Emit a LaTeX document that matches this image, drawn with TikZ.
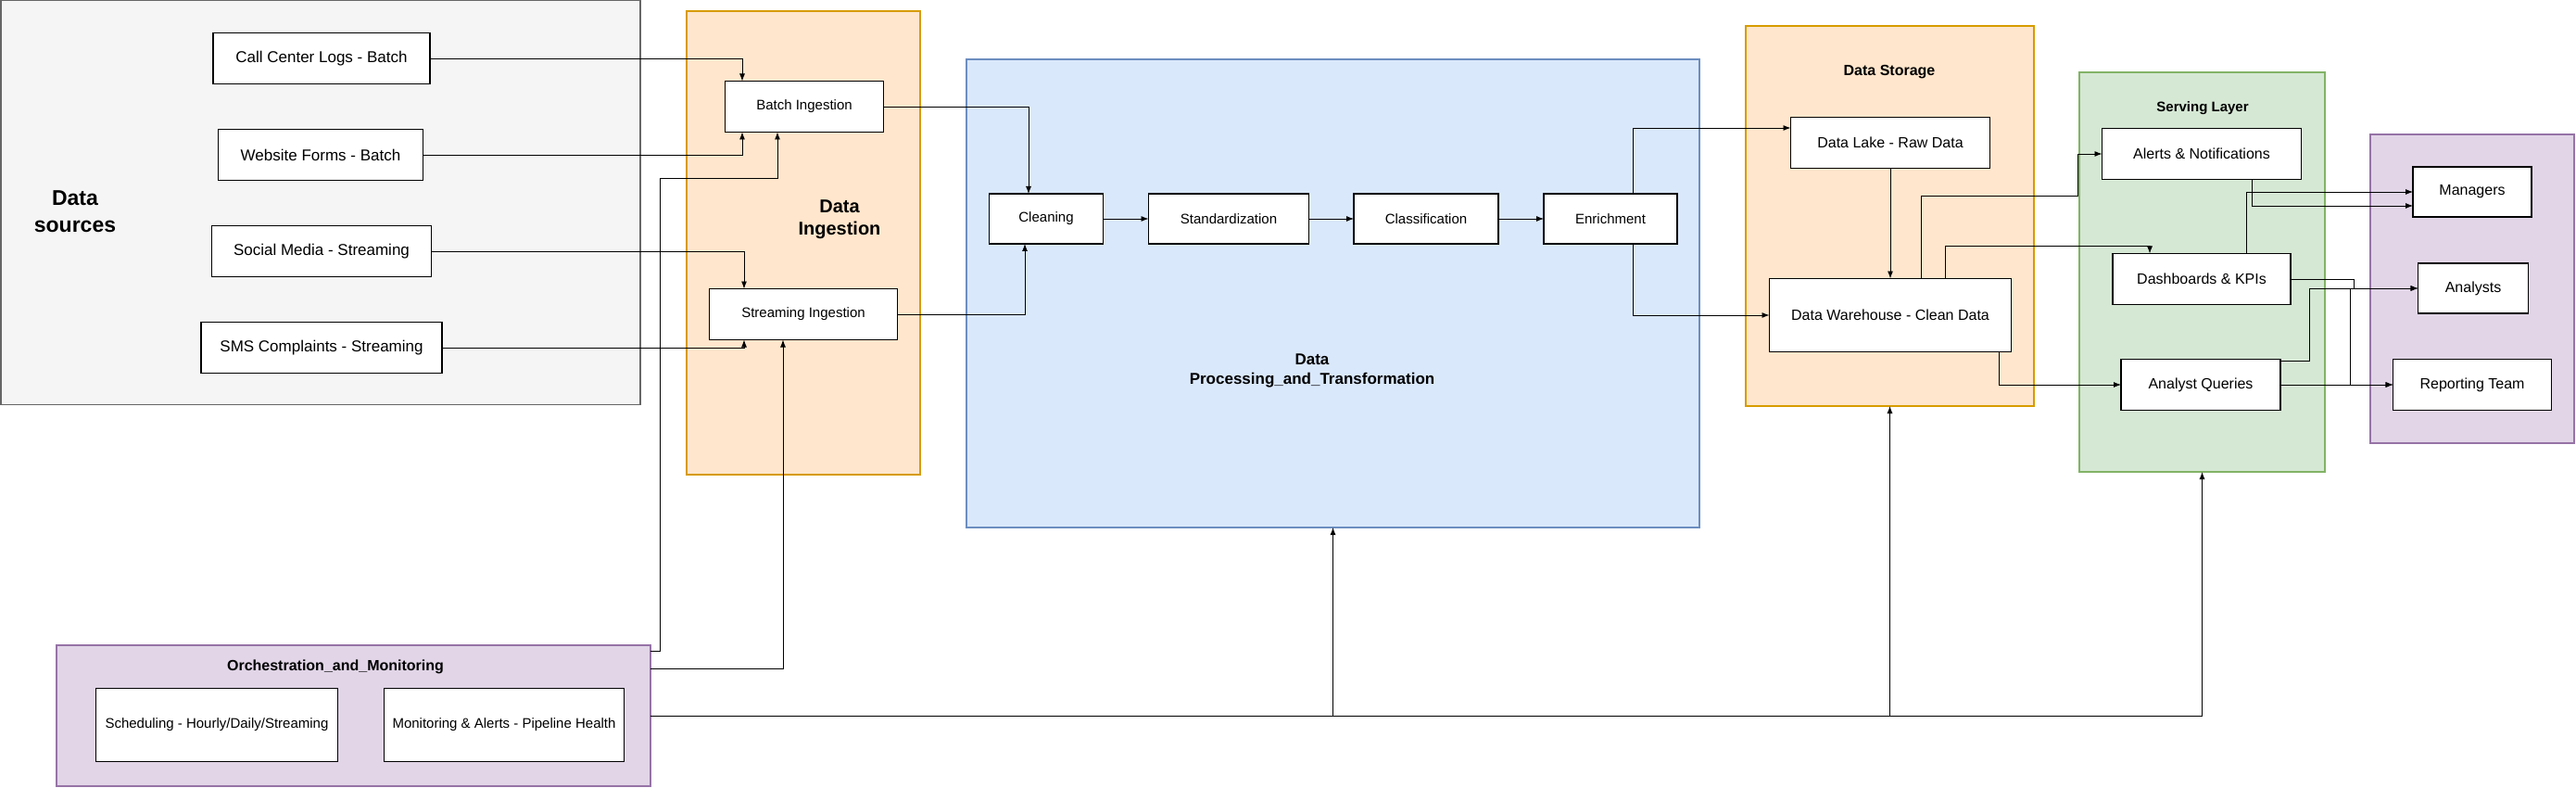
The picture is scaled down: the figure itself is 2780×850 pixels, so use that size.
\documentclass[tikz,border=0pt]{standalone}
\usepackage{fontspec}
\setmainfont{Liberation Sans}
\usetikzlibrary{positioning,arrows.meta}

\definecolor{srcfill}{HTML}{F5F5F5}\definecolor{srcline}{HTML}{666666}
\definecolor{orfill}{HTML}{FFE6CC}\definecolor{orline}{HTML}{D79B00}
\definecolor{blfill}{HTML}{DAE8FC}\definecolor{blline}{HTML}{6C8EBF}
\definecolor{grfill}{HTML}{D5E8D4}\definecolor{grline}{HTML}{82B366}
\definecolor{pufill}{HTML}{E1D5E7}\definecolor{puline}{HTML}{9673A6}

\newcommand{\fsz}[2]{\fontsize{#1}{#2}\selectfont}

\begin{document}
\begin{tikzpicture}[x=1pt,y=-1pt,>={Latex[length=8pt,width=6pt]},
  box/.style={draw=black,line width=1.6pt,fill=white,inner sep=2pt,outer sep=0pt,font=\fsz{15}{18}},
  group/.style={line width=1.2pt,inner sep=0pt,outer sep=0pt},
  title/.style={font=\bfseries,align=center},
  link/.style={->,line width=0.9pt}]
\useasboundingbox (0,0) rectangle (2780,850);

% containers
\node[group,draw=srcline,fill=srcfill,minimum width=690,minimum height=436] (srcs) at (346,218.5) {};
\node[group,draw=orline,fill=orfill,minimum width=252,minimum height=500] (ingest) at (867,262) {};
\node[group,draw=blline,fill=blfill,minimum width=791,minimum height=505] (proc) at (1438.5,316.5) {};
\node[group,draw=orline,fill=orfill,minimum width=311,minimum height=410] (store) at (2039.5,233) {};
\node[group,draw=grline,fill=grfill,minimum width=265,minimum height=431] (serve) at (2376.5,293.5) {};
\node[group,draw=puline,fill=pufill,minimum width=220,minimum height=333] (users) at (2668,311.5) {};
\node[group,draw=puline,fill=pufill,minimum width=641,minimum height=152] (orch) at (381.5,772) {};

% titles
\node[title,font=\bfseries\fsz{23}{29}] (srcstitle) at (81,228) {Data\\sources};
\node[title,font=\bfseries\fsz{20}{24}] (ingesttitle) at (906,237) {Data\\Ingestion};
\node[title,font=\bfseries\fsz{17}{21}] (proctitle) at (1416,400) {Data\\Processing\_and\_Transformation};
\node[title,font=\bfseries\fsz{16}{19}] (storetitle) at (2039,78) {Data Storage};
\node[title,font=\bfseries\fsz{15}{18}] (servetitle) at (2377,117) {Serving Layer};
\node[title,font=\bfseries\fsz{16}{19}] (orchtitle) at (362,719) {Orchestration\_and\_Monitoring};

% sources
\node[box,font=\fsz{17}{20},minimum width=234,minimum height=55] (calllogs) at (347,63) {Call Center Logs - Batch};
\node[box,font=\fsz{17}{20},minimum width=221,minimum height=55] (webforms) at (346,167) {Website Forms - Batch};
\node[box,font=\fsz{17}{20},minimum width=237,minimum height=55] (social) at (347,271) {Social Media - Streaming};
\node[box,font=\fsz{17}{20},minimum width=260,minimum height=55] (sms) at (347,375) {SMS Complaints - Streaming};

% ingestion
\node[box,minimum width=171,minimum height=55] (batch) at (868,115) {Batch Ingestion};
\node[box,minimum width=203,minimum height=55] (stream) at (867,339) {Streaming Ingestion};

% processing
\node[box,minimum width=123,minimum height=54] (clean) at (1129,236) {Cleaning};
\node[box,minimum width=173,minimum height=54] (std) at (1326,236) {Standardization};
\node[box,minimum width=156,minimum height=54] (cls) at (1539,236) {Classification};
\node[box,minimum width=144,minimum height=54] (enrich) at (1738,236) {Enrichment};

% storage
\node[box,font=\fsz{16}{19},minimum width=215,minimum height=55] (lake) at (2040,154) {Data Lake - Raw Data};
\node[box,font=\fsz{16}{19},minimum width=261,minimum height=79] (dw) at (2040,340) {Data Warehouse - Clean Data};

% serving
\node[box,font=\fsz{16}{19},minimum width=215,minimum height=55] (alerts) at (2376,166) {Alerts \& Notifications};
\node[box,font=\fsz{16}{19},minimum width=192,minimum height=55] (dash) at (2376,301) {Dashboards \& KPIs};
\node[box,font=\fsz{16}{19},minimum width=172,minimum height=55] (aq) at (2375,415) {Analyst Queries};

% consumers
\node[box,font=\fsz{16}{19},minimum width=128,minimum height=54] (mgr) at (2668,207) {Managers};
\node[box,font=\fsz{16}{19},minimum width=119,minimum height=54] (ana) at (2669,311) {Analysts};
\node[box,font=\fsz{16}{19},minimum width=171,minimum height=55] (rep) at (2668,415) {Reporting Team};

% orchestration
\node[box,minimum width=261,minimum height=79] (sched) at (234,782) {Scheduling - Hourly/Daily/Streaming};
\node[box,minimum width=259,minimum height=79] (mon) at (544,782) {Monitoring \& Alerts - Pipeline Health};

% sources -> ingestion
\draw[link] (calllogs.east) -| ([xshift=-67]batch.north);
\draw[link] (webforms.east) -| ([xshift=-67]batch.south);
\draw[link] (social.east) -| ([xshift=-64]stream.north);
\draw[link] (sms.east) -| ([xshift=-64]stream.south);

% orchestration links
\draw[link] ([yshift=-6]orch.north east) -| (712,192) -| ([xshift=-29]batch.south);
\draw[link] ([yshift=-25]orch.north east) -| ([xshift=-22]stream.south);
\draw[link] (orch.east) -| (proc.south);
\draw[link] (orch.east) -| (store.south);
\draw[link] (orch.east) -| (serve.south);

% ingestion -> processing
\draw[link] (batch.east) -| ([xshift=-19]clean.north);
\draw[link] (stream.east) -| ([xshift=-23]clean.south);
\draw[link] (clean) -- (std);
\draw[link] (std) -- (cls);
\draw[link] (cls) -- (enrich);

% processing -> storage
\draw[link] ([xshift=24]enrich.north) |- ([yshift=16]lake.west);
\draw[link] ([xshift=24]enrich.south) |- (dw.west);
\draw[link] (lake) -- (dw);

% storage -> serving
\draw[link] ([xshift=33]dw.north) |- (2242,211) |- (alerts.west);
\draw[link] ([xshift=59]dw.north) |- (2320,265) -- ([xshift=-56]dash.north);
\draw[link] ([xshift=117]dw.south) |- (aq.west);

% serving -> consumers
\draw[link] ([xshift=54]alerts.south) |- ([yshift=-15]mgr.west);
\draw[link] ([xshift=48]dash.north) |- (mgr.west);
\draw[link] (dash.east) -| (2540,311) -- (ana.west);
\draw[link] (dash.east) -| (2540,311) -| (2536,415) -- (rep.west);
\draw[link] ([yshift=-2]aq.north east) -| (2492,311) -- (ana.west);
\draw[link] (aq) -- (rep);
\end{tikzpicture}
\end{document}
